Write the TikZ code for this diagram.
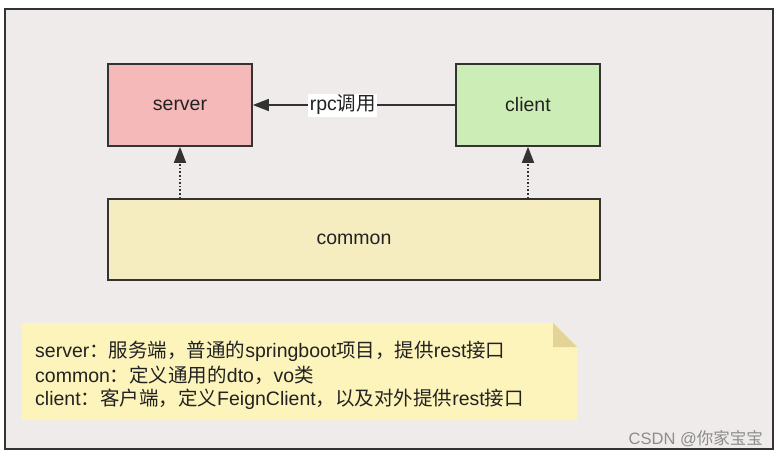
\documentclass[tikz,border=0pt]{standalone}
\usepackage{fontspec}
\setmainfont{Liberation Sans}
\newfontfamily\cjk{Noto Sans CJK SC}
\usetikzlibrary{arrows.meta}
\definecolor{framebg}{HTML}{EFEBEA}
\definecolor{framecol}{HTML}{333333}
\definecolor{serverfill}{HTML}{F4B9B8}
\definecolor{clientfill}{HTML}{CDEDB6}
\definecolor{commonfill}{HTML}{F5EDC0}
\definecolor{notefill}{HTML}{FDF4BB}
\definecolor{foldfill}{HTML}{E3D396}
\definecolor{txt}{HTML}{222222}
\tikzset{
  box/.style={draw=framecol, line width=1.6pt, inner sep=0pt, font=\fontsize{19.5}{22}\selectfont, text=txt},
  conn/.style={draw=framecol, line width=1.6pt, -{Triangle[length=16pt,width=12pt]}},
  dotconn/.style={conn, dotted},
  noteline/.style={anchor=west, inner sep=0pt, font=\fontsize{19.5}{22}\selectfont, text=txt}
}
\begin{document}
\begin{tikzpicture}[x=1pt,y=-1pt]
\useasboundingbox (0,0) rectangle (780,458);
\fill[white] (0,0) rectangle (780,458);
\filldraw[fill=framebg, draw=framecol, line width=2pt] (5,9) rectangle (773,449);
\node[box, fill=serverfill, minimum width=144pt, minimum height=82pt] (server) at (180,105) {server};
\node[box, fill=clientfill, minimum width=144pt, minimum height=82pt] (client) at (528,105) {client};
\node[box, fill=commonfill, minimum width=492pt, minimum height=81pt] (common) at (354,239.5) {common};
\draw[conn] (client.west) -- (server.east) node[pos=0.555, fill=white, inner sep=1.5pt, font=\fontsize{19.5}{22}\selectfont, text=txt] (rpc) {rpc\cjk 调用};
\draw[dotconn] (common.north -| server.south) -- (server.south);
\draw[dotconn] (common.north -| client.south) -- (client.south);
% note
\fill[notefill] (22,323) -- (553,323) -- (577,347) -- (577,420) -- (22,420) -- cycle;
\fill[foldfill] (553,323) -- (577,347) -- (553,347) -- cycle;
\node[noteline] (l1) at (35,351) {server{\cjk ：服务端，普通的}springboot{\cjk 项目，提供}rest{\cjk 接口}};
\node[noteline] (l2) at (35,375) {common{\cjk ：定义通用的}dto{\cjk ，}vo{\cjk 类}};
\node[noteline] (l3) at (35,399) {client{\cjk ：客户端，定义}FeignClient{\cjk ，以及对外提供}rest{\cjk 接口}};
\node[anchor=east, inner sep=0pt, font=\fontsize{16.5}{18}\selectfont, text=black!45] (wm) at (763,439) {CSDN @{\cjk 你家宝宝}};
\end{tikzpicture}
\end{document}
